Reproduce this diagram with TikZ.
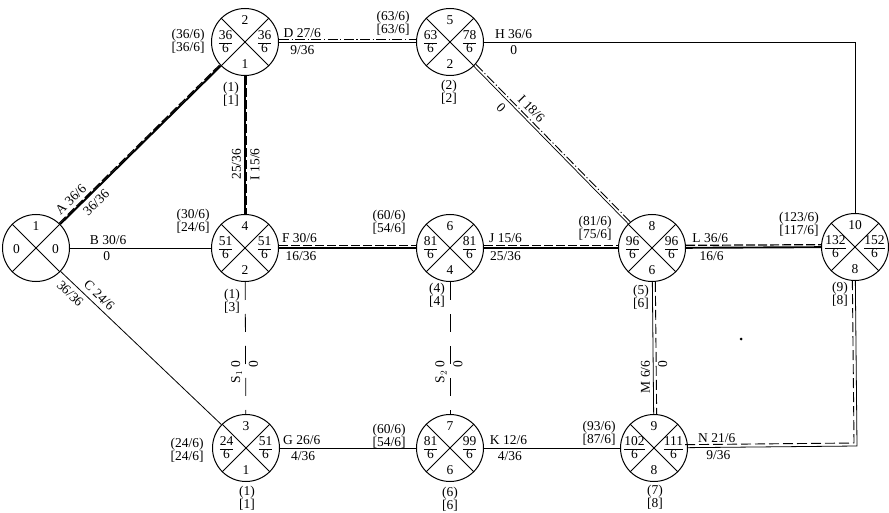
\documentclass[tikz,border=0pt]{standalone}
\usepackage{fontspec}
\setmainfont{Liberation Serif}
\newcommand\fr[2]{{\renewcommand\arraystretch{0.8}\begin{tabular}{@{}c@{}}#1\\\hline #2\end{tabular}}}
\newcommand\evn[7]{%
  \node[ev] (#1) at (#2,#3) {};
  \node[inl] (#1t) at ([yshift=22pt]#1.center) {#4};
  \node[inl] (#1l) at ([xshift=-19.5pt,yshift=-1pt]#1.center) {#5};
  \node[inl] (#1r) at ([xshift=19.5pt,yshift=-1pt]#1.center) {#6};
  \node[inl] (#1b) at ([yshift=-22pt]#1.center) {#7};
}
\begin{document}
\begin{tikzpicture}[x=1pt,y=-1pt,
  ev/.style={circle, draw, line width=1pt, minimum size=67pt, inner sep=0pt,
    path picture={\draw[line width=1pt] (path picture bounding box.north west) -- (path picture bounding box.south east)
      (path picture bounding box.north east) -- (path picture bounding box.south west);}},
  lbl/.style={font=\fontsize{13.5}{13}\selectfont, inner sep=1pt, align=center},
  inl/.style={font=\fontsize{13.5}{13}\selectfont, inner sep=0pt},
  thinl/.style={line width=0.8pt},
  crit/.style={line width=1.9pt, postaction={draw, line width=1.2pt, dash pattern=on 9pt off 3pt, transform canvas={shift={#1}}}},
  ddot/.style={line width=0.7pt, postaction={draw, line width=0.9pt, dash pattern=on 10pt off 2.5pt on 1.2pt off 2.5pt, transform canvas={shift={#1}}}},
  ddash/.style={line width=0.8pt, postaction={draw, line width=0.9pt, dash pattern=on 10pt off 4pt, transform canvas={shift={#1}}}},
  dsh/.style={line width=0.8pt, dash pattern=on 18pt off 14pt},
  el/.style={font=\fontsize{13.5}{13}\selectfont, inner sep=3pt},
  sl/.style={font=\fontsize{13.5}{13}\selectfont, inner sep=4.5pt, sloped},
]
\useasboundingbox (0,0) rectangle (889,513);

% events
\evn{n1}{36}{248}{1}{0}{0}{}
\evn{n2}{245}{42}{2}{\fr{36}{6}}{\fr{36}{6}}{1}
\evn{n5}{450}{42}{5}{\fr{63}{6}}{\fr{78}{6}}{2}
\evn{n4}{245}{248}{4}{\fr{51}{6}}{\fr{51}{6}}{2}
\evn{n6}{450}{248}{6}{\fr{81}{6}}{\fr{81}{6}}{4}
\evn{n8}{652}{248}{8}{\fr{96}{6}}{\fr{96}{6}}{6}
\evn{n10}{855}{247}{10}{\fr{132}{6}}{\fr{152}{6}}{8}
\evn{n3}{246}{448}{3}{\fr{24}{6}}{\fr{51}{6}}{1}
\evn{n7}{450}{448}{7}{\fr{81}{6}}{\fr{99}{6}}{6}
\evn{n9}{654}{448}{9}{\fr{102}{6}}{\fr{111}{6}}{8}

% side annotations
\node[lbl] (a2l) at (188,41) {(36/6)\\{}[36/6]};
\node[lbl] (a2b) at (231,94) {(1)\\{}[1]};
\node[lbl] (a5l) at (393,23) {(63/6)\\{}[63/6]};
\node[lbl] (a5b) at (449,92) {(2)\\{}[2]};
\node[lbl] (a4l) at (193,221) {(30/6)\\{}[24/6]};
\node[lbl] (a4b) at (232,301) {(1)\\{}[3]};
\node[lbl] (a6l) at (389,222) {(60/6)\\{}[54/6]};
\node[lbl] (a6b) at (437,295) {(4)\\{}[4]};
\node[lbl] (a8l) at (595,228) {(81/6)\\{}[75/6]};
\node[lbl] (a8b) at (641,297) {(5)\\{}[6]};
\node[lbl] (a10l) at (799,224) {(123/6)\\{}[117/6]};
\node[lbl] (a10b) at (840,294) {(9)\\{}[8]};
\node[lbl] (a3l) at (187,450) {(24/6)\\{}[24/6]};
\node[lbl] (a3b) at (247,498) {(1)\\{}[1]};
\node[lbl] (a7l) at (389,436) {(60/6)\\{}[54/6]};
\node[lbl] (a7b) at (450,499) {(6)\\{}[6]};
\node[lbl] (a9l) at (599,433) {(93/6)\\{}[87/6]};
\node[lbl] (a9b) at (655,497) {(7)\\{}[8]};

% activities
\draw[crit={(-1pt,1pt)}] (n1) -- node[sl,pos=.11,above]{A 36/6} node[sl,pos=.18,below]{36/36} (n2);
\draw[thinl] (n1) -- node[el,pos=.27,above]{B 30/6} node[el,pos=.26,below]{0} (n4);
\draw[thinl] (n1) -- node[sl,pos=.20,above]{C 24/6} node[sl,pos=.10,below]{36/36} (n3);
\draw[ddot={(0pt,2.5pt)}] (n2) -- node[el,pos=.17,above=1pt]{D 27/6} node[el,pos=.17,below]{9/36} (n5);
\draw[crit={(1.5pt,0pt)}] (n2) -- node[el,pos=.64,rotate=90,above]{25/36} node[el,pos=.64,rotate=90,below=1.5pt]{I 15/6} (n4);
\coordinate (hc) at (855,42);
\draw[thinl] (n5) -- node[el,pos=.08,above]{H 36/6} node[el,pos=.08,below]{0} (hc) -- (n10);
\draw[ddot={(2pt,2pt)}] (n5) -- node[sl,pos=.32,above=2pt]{I 18/6} node[sl,pos=.22,below]{0} (n8);
\draw[crit={(0pt,2.5pt)}] (n4) -- node[el,pos=.15,above=1pt]{F 30/6} node[el,pos=.16,below]{16/36} (n6);
\draw[crit={(0pt,2.5pt)}] (n6) -- node[el,pos=.16,above=1pt]{J 15/6} node[el,pos=.16,below]{25/36} (n8);
\draw[crit={(0pt,2.5pt)}] (n8) -- node[el,pos=.18,above=1pt]{L 36/6} node[el,pos=.19,below]{16/6} (n10);
\draw[dsh] (n4) -- node[el,pos=.68,rotate=90,above]{S$_1$ 0} node[el,pos=.62,rotate=90,below]{0} (n3);
\draw[dsh] (n6) -- node[el,pos=.68,rotate=90,above]{S$_2$ 0} node[el,pos=.62,rotate=90,below]{0} (n7);
\draw[ddash={(3pt,0pt)}] (n8) -- node[el,pos=.72,rotate=90,above]{M 6/6} node[el,pos=.62,rotate=90,below=1.5pt]{0} (n9);
\draw[thinl] (n3) -- node[el,pos=.16,above]{G 26/6} node[el,pos=.17,below]{4/36} (n7);
\draw[thinl] (n7) -- node[el,pos=.18,above]{K 12/6} node[el,pos=.19,below]{4/36} (n9);
\coordinate (nc) at (857,446);
\draw[ddash={(-3pt,3pt)}] (n9) -- node[el,pos=.17,above=1pt]{N 21/6} node[el,pos=.18,below]{9/36} (nc) -- (n10);

\fill (741,339) circle (1.5);
\end{tikzpicture}
\end{document}
